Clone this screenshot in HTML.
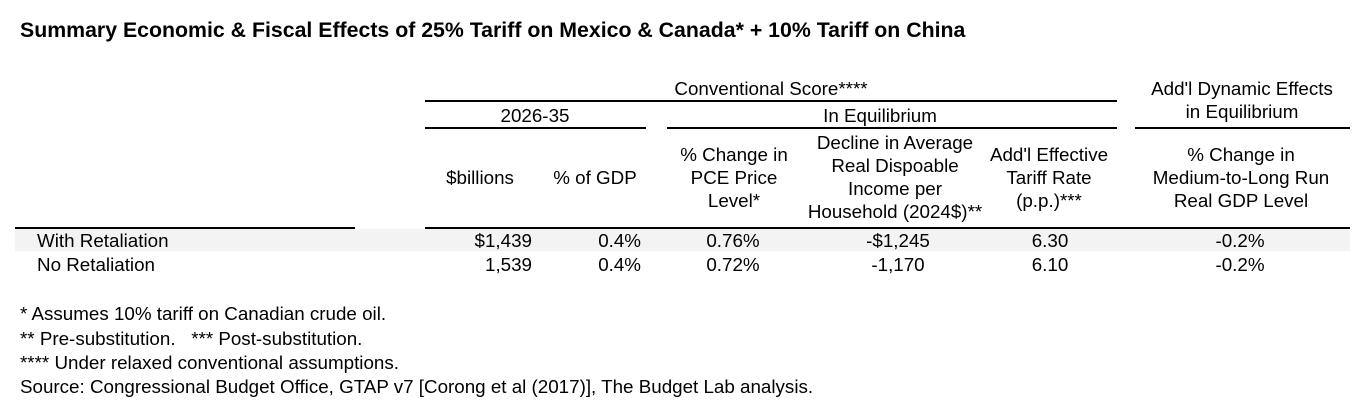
<!DOCTYPE html>
<html><head><meta charset="utf-8">
<style>
body{margin:0;width:1368px;height:418px;background:#fff;position:relative;overflow:hidden;font-family:"Liberation Sans",Arial,sans-serif;color:#000}
.t{position:absolute;font-size:18.8px;line-height:23px;white-space:nowrap}
.c{transform:translateX(-50%);text-align:center}
.r{transform:translateX(-100%);text-align:right}
.ln{position:absolute;height:2px;background:#000}
</style></head><body>
<div class="t" style="left:20px;top:19px;font-size:21.3px;font-weight:bold">Summary Economic &amp; Fiscal Effects of 25% Tariff on Mexico &amp; Canada* + 10% Tariff on China</div>

<div class="t c" style="left:771px;top:77px">Conventional Score****</div>
<div class="ln" style="left:425px;top:100px;width:692px"></div>
<div class="t c" style="left:1242px;top:77px">Add'l Dynamic Effects<br>in Equilibrium</div>
<div class="t c" style="left:535px;top:104px">2026-35</div>
<div class="t c" style="left:880px;top:104px">In Equilibrium</div>
<div class="ln" style="left:425px;top:127px;width:221px"></div>
<div class="ln" style="left:667px;top:127px;width:450px"></div>
<div class="ln" style="left:1135px;top:127px;width:215px"></div>

<div class="t c" style="left:480px;top:166px">$billions</div>
<div class="t c" style="left:595px;top:166px">% of GDP</div>
<div class="t c" style="left:734px;top:143px">% Change in<br>PCE Price<br>Level*</div>
<div class="t c" style="left:895px;top:131px">Decline in Average<br>Real Dispoable<br>Income per<br>Household (2024$)**</div>
<div class="t c" style="left:1049px;top:143px">Add'l Effective<br>Tariff Rate<br>(p.p.)***</div>
<div class="t c" style="left:1241px;top:143px">% Change in<br>Medium-to-Long Run<br>Real GDP Level</div>

<div style="position:absolute;left:15px;top:229px;width:1335px;height:22px;background:#f3f3f3"></div>
<div class="ln" style="left:15px;top:227px;width:340px"></div>
<div class="ln" style="left:425px;top:227px;width:925px"></div>

<div class="t" style="left:37px;top:229px">With Retaliation</div>
<div class="t r" style="left:532px;top:229px">$1,439</div>
<div class="t r" style="left:641px;top:229px">0.4%</div>
<div class="t c" style="left:733px;top:229px">0.76%</div>
<div class="t c" style="left:898px;top:229px">-$1,245</div>
<div class="t c" style="left:1050px;top:229px">6.30</div>
<div class="t c" style="left:1240px;top:229px">-0.2%</div>

<div class="t" style="left:37px;top:253px">No Retaliation</div>
<div class="t r" style="left:532px;top:253px">1,539</div>
<div class="t r" style="left:641px;top:253px">0.4%</div>
<div class="t c" style="left:733px;top:253px">0.72%</div>
<div class="t c" style="left:898px;top:253px">-1,170</div>
<div class="t c" style="left:1050px;top:253px">6.10</div>
<div class="t c" style="left:1240px;top:253px">-0.2%</div>

<div class="t" style="left:20px;top:302px">* Assumes 10% tariff on Canadian crude oil.</div>
<div class="t" style="left:20px;top:327px">** Pre-substitution.&nbsp;&nbsp;&nbsp;*** Post-substitution.</div>
<div class="t" style="left:20px;top:351px">**** Under relaxed conventional assumptions.</div>
<div class="t" style="left:20px;top:375px">Source: Congressional Budget Office, GTAP v7 [Corong et al (2017)], The Budget Lab analysis.</div>
</body></html>
